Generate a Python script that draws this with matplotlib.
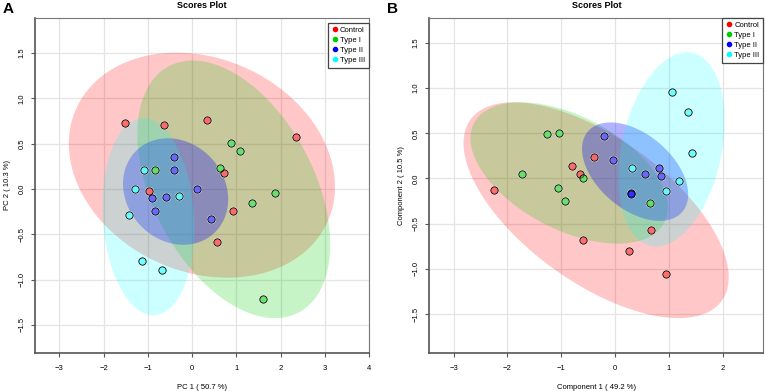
import numpy as np
import matplotlib
matplotlib.use("Agg")
import matplotlib.pyplot as plt
from matplotlib.lines import Line2D

plt.rcParams['font.family'] = ['Liberation Sans', 'DejaVu Sans']

groups = ['Control', 'Type I', 'Type II', 'Type III']
group_colors = ['#ff0000', '#00cd00', '#0000ff', '#00ffff']
ellipse_alpha = [0.22, 0.22, 0.3, 0.2]

# panel A: PCA scores
pca_control_x = [-1.51, -0.64, 0.33, 2.35, 0.72, -0.97, 0.93, 0.57]
pca_control_y = [0.73, 0.70, 0.76, 0.57, 0.18, -0.02, -0.24, -0.58]
pca_type1_x = [0.87, 1.09, 0.63, -0.83, 1.88, 1.35, 1.61]
pca_type1_y = [0.51, 0.42, 0.23, 0.21, -0.04, -0.15, -1.21]
pca_type2_x = [-0.42, -0.41, 0.12, -0.90, -0.58, -0.84, 0.42]
pca_type2_y = [0.35, 0.21, 0.00, -0.10, -0.09, -0.24, -0.33]
pca_type3_x = [-1.09, -1.30, -0.29, -1.43, -1.13, -0.69]
pca_type3_y = [0.21, 0.00, -0.08, -0.29, -0.79, -0.89]

# panel B: PLS-DA scores
pls_control_x = [-2.25, -0.81, -0.65, -0.40, -0.60, 0.26, 0.67, 0.95]
pls_control_y = [-0.13, 0.14, 0.055, 0.24, -0.68, -0.80, -0.57, -1.06]
pls_type1_x = [-1.27, -1.04, -1.73, -0.59, -1.07, -0.93, 0.65]
pls_type1_y = [0.49, 0.50, 0.05, 0.01, -0.10, -0.25, -0.27]
pls_type2_x = [-0.20, -0.04, 0.56, 0.82, 0.85, 0.30, 0.30]
pls_type2_y = [0.47, 0.20, 0.05, 0.12, 0.03, -0.165, -0.175]
pls_type3_x = [1.05, 1.35, 1.43, 0.31, 1.19, 0.95]
pls_type3_y = [0.96, 0.74, 0.28, 0.12, -0.03, -0.14]

x_ticks = [-3, -2, -1, 0, 1, 2, 3, 4]
y_ticks = [-1.5, -1.0, -0.5, 0.0, 0.5, 1.0, 1.5]


def conf_ellipse(x, y, level_t=2.4477, n=200):
    # 95% ellipse from group covariance (like R ellipse::ellipse)
    pts = np.column_stack([x, y])
    centre = pts.mean(axis=0)
    cov = np.cov(pts, rowvar=False)
    vals, vecs = np.linalg.eigh(cov)
    t = np.linspace(0, 2 * np.pi, n)
    circle = np.column_stack([np.cos(t), np.sin(t)])
    ell = circle * np.sqrt(vals) * level_t
    return ell @ vecs.T + centre


def scores_plot(ax, xs, ys, xlabel, ylabel, xlim, ylim, legend_y):
    ax.set_xlim(*xlim)
    ax.set_ylim(*ylim)
    ax.set_xticks([t for t in x_ticks if xlim[0] <= t <= xlim[1]])
    ax.set_yticks(y_ticks)
    ax.grid(True, color='#e4e4e4', lw=0.9, zorder=0)
    ax.set_axisbelow(True)

    for gx, gy, col, a in zip(xs, ys, group_colors, ellipse_alpha):
        ell = conf_ellipse(gx, gy)
        ax.fill(ell[:, 0], ell[:, 1], color=col, alpha=a, lw=0, zorder=1)

    for gx, gy, col in zip(xs, ys, group_colors):
        ax.scatter(gx, gy, s=44, color='white', lw=0, alpha=0.8, zorder=3)
        ax.scatter(gx, gy, s=28, facecolor=matplotlib.colors.to_rgba(col, 0.55),
                   edgecolor='black', linewidths=0.6, zorder=4)

    ax.set_title('Scores Plot', fontsize=6.5, fontweight='bold', pad=7)
    ax.set_xlabel(xlabel, fontsize=5.5, labelpad=8)
    ax.set_ylabel(ylabel, fontsize=5.5, labelpad=5.5)
    ax.tick_params(direction='out', length=3, width=0.8, color='#555555',
                   labelsize=5.5)
    ax.tick_params(axis='x', pad=6)
    ax.tick_params(axis='y', pad=4)
    for lab in ax.get_yticklabels():
        lab.set_rotation(90)
        lab.set_va('center')
    for side in ['left', 'bottom']:
        ax.spines[side].set_color('#555555')
        ax.spines[side].set_linewidth(1.2)
    for side in ['top', 'right']:
        ax.spines[side].set_color('#777777')
        ax.spines[side].set_linewidth(0.8)

    handles = [Line2D([], [], marker='o', ls='', color=c, markersize=3)
               for c in ['#ff0000', '#00cc00', '#0000ff', '#00ffff']]
    leg = ax.legend(handles, groups, loc='upper right', bbox_to_anchor=(1.0, legend_y),
                    fontsize=5.5, frameon=True, fancybox=False, framealpha=1,
                    handlelength=0.8, handletextpad=0.3, borderpad=0.5,
                    labelspacing=0.35, borderaxespad=0)
    leg.get_frame().set_edgecolor('#444444')
    leg.get_frame().set_linewidth(0.9)


fig = plt.figure(figsize=(7.65, 3.91), dpi=100)
ax_a = fig.add_axes([0.0458, 0.0972, 0.4366, 0.857])
ax_b = fig.add_axes([0.5612, 0.0972, 0.4366, 0.857])

scores_plot(ax_a,
            [pca_control_x, pca_type1_x, pca_type2_x, pca_type3_x],
            [pca_control_y, pca_type1_y, pca_type2_y, pca_type3_y],
            'PC 1 ( 50.7 %)', 'PC 2 ( 10.3 %)',
            (-3.55, 4.0), (-1.81, 1.887), 0.985)
scores_plot(ax_b,
            [pls_control_x, pls_type1_x, pls_type2_x, pls_type3_x],
            [pls_control_y, pls_type1_y, pls_type2_y, pls_type3_y],
            'Component 1 ( 49.2 %)', 'Component 2 ( 10.5 %)',
            (-3.45, 2.75), (-1.93, 1.776), 1.0)

fig.text(0.004, 0.995, 'A', fontsize=11, fontweight='bold', va='top')
fig.text(0.506, 0.995, 'B', fontsize=11, fontweight='bold', va='top')

fig.savefig('out.png', dpi=100)
